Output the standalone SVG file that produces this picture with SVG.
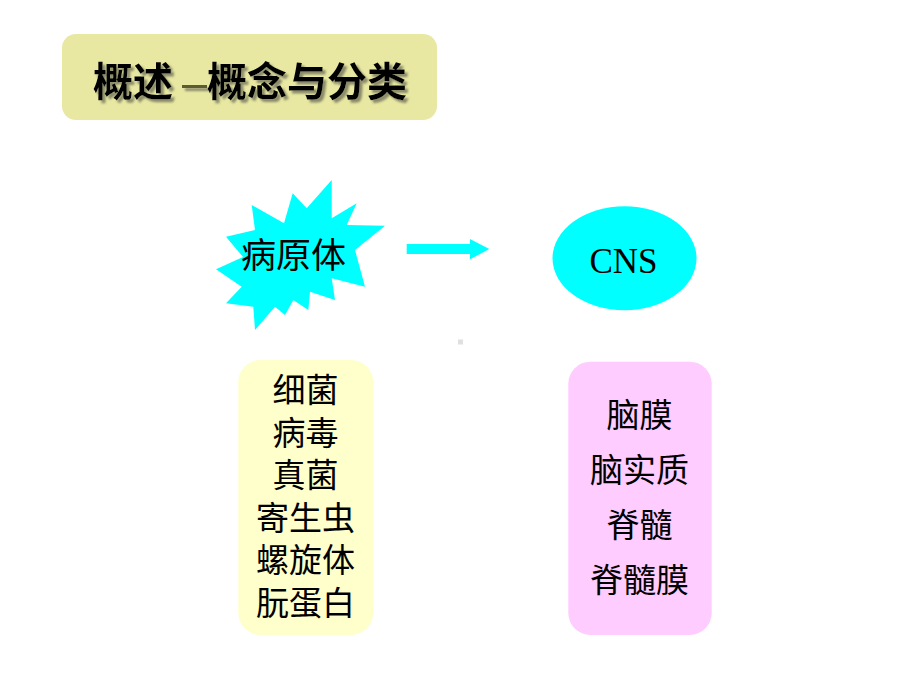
<svg xmlns="http://www.w3.org/2000/svg" width="920" height="690" viewBox="0 0 920 690">
<defs>
<filter id="shadow" x="-10%" y="-20%" width="130%" height="150%">
<feGaussianBlur in="SourceAlpha" stdDeviation="0.8" result="b"/>
<feOffset in="b" dx="2.5" dy="2.5" result="o"/>
<feFlood flood-color="#7a7a60" flood-opacity="0.85"/>
<feComposite in2="o" operator="in" result="s"/>
<feMerge><feMergeNode in="s"/><feMergeNode in="SourceGraphic"/></feMerge>
</filter>
</defs>
<style>
.cjk{font-family:"Noto Sans CJK SC","Noto Sans CJK JP",sans-serif;fill:#000}
.t{font-size:40px;font-weight:bold}
.item{font-size:33px;text-anchor:middle}
</style>
<rect width="920" height="690" fill="#fff"/>
<g id="title">
<rect x="62" y="34" width="375" height="86" rx="14" fill="#E8E8A2"/>
<g filter="url(#shadow)">
<rect x="182" y="85" width="25" height="3" fill="#5c5c30"/>
<text class="cjk t" x="93" y="96" font-size="43">概述</text>
<text class="cjk t" x="207" y="96">概念与分类</text>
</g>
</g>
<g id="pathogen">
<polygon fill="#00FFFF" points="251.7,205 284,223.3 292.7,193.3 306.7,208.3 331.7,180 331.7,218.3 356.7,203.3 346.7,225 385,225.7 355,250 365,286.7 331.7,278.3 335,300 310,291.7 308.3,310 293.3,300 285,315 275,306.7 255,330 253.3,306.7 226,303.3 241.7,286.7 216,269.3 243,257 226,236.7 255,230"/>
<text class="cjk" x="241" y="268" font-size="35">病原体</text>
</g>
<g id="connectors">
<polygon fill="#00FFFF" points="406.7,244 470,244 470,239 489.3,249 470,259.3 470,254 406.7,254"/>
</g>
<g id="cns">
<ellipse cx="624.5" cy="258.3" rx="72" ry="52" fill="#00FFFF"/>
<text x="623.5" y="273" font-family="'Liberation Serif',serif" font-size="35" text-anchor="middle">CNS</text>
</g>
<rect x="458" y="339.5" width="5" height="5" fill="#e0e0e0"/>
<g id="pathogen-list">
<rect x="238.3" y="360" width="135" height="275" rx="22" fill="#FFFFCC"/>
<text class="cjk item" x="305.5" y="402">细菌</text>
<text class="cjk item" x="305.5" y="444.5">病毒</text>
<text class="cjk item" x="305.5" y="487">真菌</text>
<text class="cjk item" x="305.5" y="529.5">寄生虫</text>
<text class="cjk item" x="305.5" y="572">螺旋体</text>
<text class="cjk item" x="305.5" y="614.5">朊蛋白</text>
</g>
<g id="cns-list">
<rect x="568.3" y="361.7" width="143.4" height="273.3" rx="22" fill="#FFCCFF"/>
<text class="cjk item" x="639.5" y="427">脑膜</text>
<text class="cjk item" x="639.5" y="482">脑实质</text>
<text class="cjk item" x="639.5" y="537">脊髓</text>
<text class="cjk item" x="639.5" y="592">脊髓膜</text>
</g>
</svg>
